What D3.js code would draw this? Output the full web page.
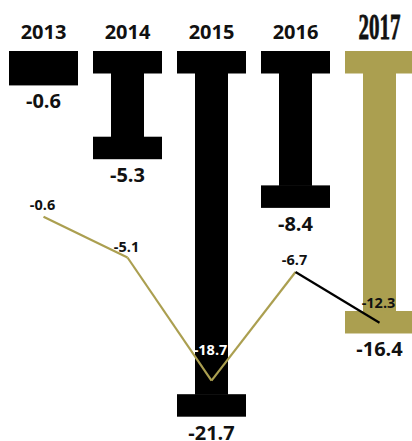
<!DOCTYPE html>
<html>
<head>
<meta charset="utf-8">
<script src="https://cdn.jsdelivr.net/npm/d3@7"></script>
<style>
  html, body { margin: 0; padding: 0; background: #fff; }
  svg { display: block; }
</style>
</head>
<body>
<svg id="chart" width="412" height="441"></svg>
<script>
// Annual values shown as I-beam bars, plus a second series as a line
const years = ["2013", "2014", "2015", "2016", "2017"];
const barValues = [-0.6, -5.3, -21.7, -8.4, -16.4];
const lineValues = [-0.6, -5.1, -18.7, -6.7, -12.3];

const gold = "#ab9f50";
const highlight = "2017";
const svg = d3.select("#chart");

const x = d3.scaleBand().domain(years).range([1.5, 421.5]).padding(0);
const yBar = d3.scaleLinear().domain([0, -21.7]).range([76, 416.7]);
const yLine = d3.scaleLinear().domain([0, -18.7]).range([211.3, 380.7]);

const capW = 69, capH = 22.5, stemW = 33, barTop = 51;
const cx = d => x(d) + x.bandwidth() / 2;

// I-beam bars: top flange, stem, bottom flange
const bars = svg.append("g").selectAll("g").data(years).join("g")
  .attr("fill", d => d === highlight ? gold : "#000");

bars.each(function(d, i) {
  const g = d3.select(this);
  const bottom = yBar(barValues[i]);
  const c = cx(d);
  if (bottom - barTop <= 2 * capH) {
    g.append("rect").attr("x", c - capW / 2).attr("y", barTop)
      .attr("width", capW).attr("height", bottom - barTop);
  } else {
    g.append("rect").attr("x", c - capW / 2).attr("y", barTop)
      .attr("width", capW).attr("height", capH);
    g.append("rect").attr("x", c - stemW / 2).attr("y", barTop + capH - 0.5)
      .attr("width", stemW).attr("height", bottom - barTop - 2 * capH + 1);
    g.append("rect").attr("x", c - capW / 2).attr("y", bottom - capH)
      .attr("width", capW).attr("height", capH);
  }
});

// Year headings
svg.append("g").selectAll("text").data(years).join("text")
  .attr("text-anchor", "middle")
  .attr("x", d => cx(d))
  .attr("y", 39)
  .attr("font-family", "'Open Sans', sans-serif")
  .attr("font-weight", 700)
  .attr("font-size", 20)
  .attr("fill", "#111")
  .text(d => d)
  .filter(d => d === highlight)
  .attr("font-family", "'Liberation Serif', serif")
  .attr("font-size", 35)
  .attr("stroke", "#111")
  .attr("stroke-width", 0.8)
  .attr("transform", d => `translate(${cx(d)},39) scale(0.6,1) translate(${-cx(d)},-39)`);

// Bar value labels below each beam
svg.append("g").selectAll("text").data(years).join("text")
  .attr("text-anchor", "middle")
  .attr("x", d => cx(d))
  .attr("y", (d, i) => yBar(barValues[i]) + 23)
  .attr("font-family", "'Open Sans', sans-serif")
  .attr("font-weight", 700)
  .attr("font-size", 20)
  .attr("fill", "#111")
  .text((d, i) => barValues[i].toFixed(1));

// Line series: gold segments, last segment in black
const pts = years.map((d, i) => [cx(d), yLine(lineValues[i])]);
const line = d3.line();
const segs = d3.pairs(pts);
svg.append("g").selectAll("path").data(segs).join("path")
  .attr("d", s => line(s))
  .attr("fill", "none")
  .attr("stroke", (s, i) => i === segs.length - 1 ? "#000" : gold)
  .attr("stroke-width", 2.2);

// Line value labels
const labelDy = [-7, -6, -26, -7, -15];
svg.append("g").selectAll("text").data(years).join("text")
  .attr("text-anchor", "middle")
  .attr("x", d => cx(d) - 1)
  .attr("y", (d, i) => yLine(lineValues[i]) + labelDy[i])
  .attr("font-family", "'Open Sans', sans-serif")
  .attr("font-weight", 700)
  .attr("font-size", 14.5)
  .attr("fill", (d, i) => d === "2015" ? "#fff" : "#111")
  .text((d, i) => lineValues[i].toFixed(1));
</script>
</body>
</html>
